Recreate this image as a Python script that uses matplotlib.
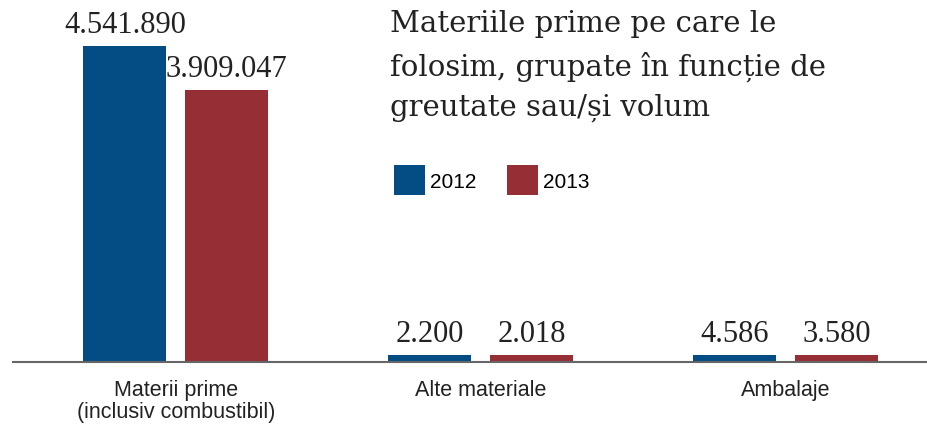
import numpy as np
import matplotlib
matplotlib.use("Agg")
import matplotlib.pyplot as plt

# data
categories = ["Materii prime\n(inclusiv combustibil)", "Alte materiale", "Ambalaje"]
years = ["2012", "2013"]
vals_2012 = [4541890, 2200, 4586]
vals_2013 = [3909047, 2018, 3580]

title = "Materiile prime pe care le\nfolosim, grupate în funcție de\ngreutate sau/și volum"

blue = "#034c84"
red = "#962e36"
txt = "#222222"

def fmt(v):
    # dot as thousands separator
    return f"{v:,}".replace(",", ".")

fig = plt.figure(figsize=(9.28, 4.27), dpi=100)
W, H = 928, 427
ax = fig.add_axes([13 / W, 1 - 363 / H, 1 - 13 / W, (363 - 47) / H])

x = np.arange(len(categories))
w = 0.272
off = 0.167
ymax = max(vals_2012)

# tiny values get a minimum visible height, like the original graphic
h12 = np.maximum(vals_2012, ymax * 0.022)
h13 = np.maximum(vals_2013, ymax * 0.022)

b1 = ax.bar(x - off, h12, w, color=blue, label=years[0])
b2 = ax.bar(x + off, h13, w, color=red, label=years[1])

for bars, vals in [(b1, vals_2012), (b2, vals_2013)]:
    for rect, v in zip(bars, vals):
        ax.annotate(fmt(v), (rect.get_x() + rect.get_width() / 2, rect.get_height()),
                    xytext=(0, 5), textcoords="offset points", ha="center", va="bottom",
                    fontsize=22, family="Liberation Serif", color=txt)

ax.set_xlim(-0.534, 2.466)
ax.set_ylim(0, ymax)
for s in ["top", "right", "left"]:
    ax.spines[s].set_visible(False)
ax.spines["bottom"].set_color("#666666")
ax.spines["bottom"].set_linewidth(1.5)
ax.set_yticks([])
ax.set_xticks(x)
ax.set_xticklabels(categories, fontsize=15.5, family="Liberation Sans", color=txt, linespacing=1.1)
ax.tick_params(axis="x", length=0, pad=12)

fig.text(390 / W, 1 - 10 / H, title, ha="left", va="top", fontsize=21,
         family="DejaVu Serif", color=txt, linespacing=1.55)

fig.legend(handles=[b1, b2], loc="upper left", bbox_to_anchor=(394 / W, 1 - 166 / H),
           ncol=2, frameon=False, handlelength=1.5, handleheight=1.86,
           borderpad=0, borderaxespad=0,
           handletextpad=0.25, columnspacing=1.45, prop={"family": "Liberation Sans", "size": 15})

fig.savefig("out.png", dpi=100)
